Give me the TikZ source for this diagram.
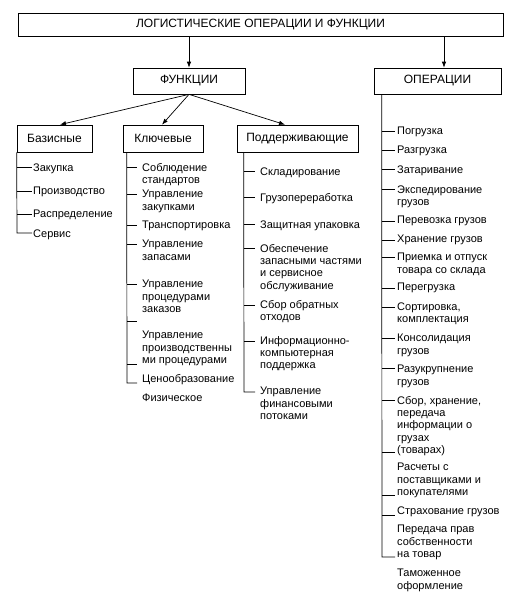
\documentclass[tikz,border=0pt]{standalone}
\usepackage{fontspec}
\setmainfont{Liberation Sans}
\usetikzlibrary{arrows.meta}
\tikzset{
  arr/.style={line width=0.7pt, -{Latex[length=6pt, width=4.5pt]}},
  ln/.style={line width=0.7pt},
  head/.style={draw, line width=0.7pt, inner sep=0pt, font=\fontsize{12}{14}\selectfont},
  itm/.style={anchor=north west, inner sep=0pt, align=left, font=\fontsize{11}{12.2}\selectfont},
}
\newcommand{\headbox}[6]{\node[head, minimum width={(#4-#2)*1pt}, minimum height={(#5-#3)*1pt}]
  (#1) at ({(#2+#4)/2},{(#3+#5)/2}) {#6};}
\newcommand{\entry}[4]{\node[itm] (#1) at (#2,#3-3.8) {#4};}
\newcommand{\tk}[3]{\draw[ln] (#1,#2) -- ++(#3,0);}
\def\xB{17}
\def\xK{127}
\def\xP{244}
\def\xO{382}

\begin{document}
\begin{tikzpicture}[x=1pt, y=-1pt]
\useasboundingbox (0,0) rectangle (509,592);

\headbox{top}{18}{13}{503}{36}{ЛОГИСТИЧЕСКИЕ ОПЕРАЦИИ И ФУНКЦИИ}
\headbox{fun}{133}{68}{245}{94}{ФУНКЦИИ}
\headbox{ops}{374}{68}{501}{94}{ОПЕРАЦИИ}
\headbox{bas}{17}{125}{92}{152}{Базисные}
\headbox{kl}{123}{125}{203}{152}{Ключевые}
\headbox{pod}{237}{125}{358}{152}{Поддерживающие}

\draw[arr] (top.south -| fun.north) -- (fun.north);
\draw[arr] ([xshift=6.5pt]top.south -| ops.north) -- ([xshift=6.5pt]ops.north);
\draw[arr] (fun.south) -- ([xshift=5.5pt]bas.north);
\draw[arr] (fun.south) -- ([xshift=-1pt]kl.north);
\draw[arr] (fun.south) -- ([xshift=-12.5pt]pod.north);

% Базисные
\draw[ln] (bas.south west) -- (\xB,233) -- ++(15,0);
\foreach \y in {167,191,214} {\tk{\xB}{\y}{15}}
\entry{b1}{33}{167}{Закупка}
\entry{b2}{33}{191}{Производство}
\entry{b3}{33}{214}{Распределение}
\entry{b4}{33}{233}{Сервис}

% Ключевые
\draw[ln] (kl.south west) ++(4,0) -- (\xK,383) -- ++(10,0);
\foreach \y in {167,194,225,244,284,321,364} {\tk{\xK}{\y}{10}}
\entry{k1}{142}{167}{Соблюдение\\стандартов}
\entry{k2}{142}{194}{Управление\\закупками}
\entry{k3}{142}{225}{Транспортировка}
\entry{k4}{142}{244}{Управление\\запасами}
\entry{k5}{142}{284}{Управление\\процедурами\\заказов}
\entry{k6}{142}{335}{Управление\\производственны\\ми процедурами}
\entry{k7}{142}{378}{Ценообразование}
\entry{k8}{142}{397}{Физическое}

% Поддерживающие
\draw[ln] (pod.south west) ++(7,0) -- (\xP,392) -- ++(11,0);
\foreach \y in {171,197,224,248,305,341} {\tk{\xP}{\y}{11}}
\entry{p1}{260}{171}{Складирование}
\entry{p2}{260}{197}{Грузопереработка}
\entry{p3}{260}{224}{Защитная упаковка}
\entry{p4}{260}{248}{Обеспечение\\запасными частями\\и сервисное\\обслуживание}
\entry{p5}{260}{304}{Сбор обратных\\отходов}
\entry{p6}{260}{340}{Информационно-\\компьютерная\\поддержка}
\entry{p7}{260}{391}{Управление\\финансовыми\\потоками}

% ОПЕРАЦИИ
\draw[ln] (ops.south west) ++(8,0) -- (\xO,557) -- ++(13,0);
\foreach \y in {131,150,169,189,221,240,257,288,307,338,368,400,452,495,515} {\tk{\xO}{\y}{13}}
\entry{o1}{397}{131}{Погрузка}
\entry{o2}{397}{150}{Разгрузка}
\entry{o3}{397}{169}{Затаривание}
\entry{o4}{397}{189}{Экспедирование\\грузов}
\entry{o5}{397}{220}{Перевозка грузов}
\entry{o6}{397}{239}{Хранение грузов}
\entry{o7}{397}{257}{Приемка и отпуск\\товара со склада}
\entry{o8}{397}{287}{Перегрузка}
\entry{o9}{397}{306}{Сортировка,\\комплектация}
\entry{o10}{397}{338}{Консолидация\\грузов}
\entry{o11}{397}{369}{Разукрупнение\\грузов}
\entry{o12}{397}{400}{Сбор, хранение,\\передача\\информации о\\грузах\\(товарах)}
\entry{o13}{397}{467}{Расчеты с\\поставщиками и\\покупателями}
\entry{o14}{397}{510}{Страхование грузов}
\entry{o15}{397}{529}{Передача прав\\собственности\\на товар}
\entry{o16}{397}{573}{Таможенное\\оформление}

\end{tikzpicture}
\end{document}
